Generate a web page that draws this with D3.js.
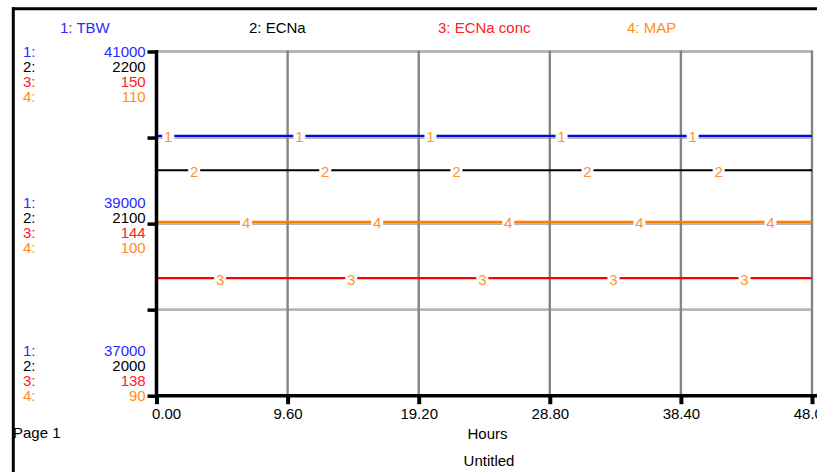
<!DOCTYPE html>
<html>
<head>
<meta charset="utf-8">
<script src="https://cdn.jsdelivr.net/npm/d3@7"></script>
<style>
  html, body { margin: 0; padding: 0; background: #fff; }
  svg { display: block; font-family: "Liberation Sans", Arial, sans-serif; }
</style>
</head>
<body>
<svg id="chart" width="817" height="472"></svg>
<script>
// ---- data ----
const seriesNames = ["1: TBW", "2: ECNa", "3: ECNa conc", "4: MAP"];
const hours = [0, 9.6, 19.2, 28.8, 38.4, 48];
const tbw = [40020, 40020, 40020, 40020, 40020, 40020];
const ecna = [2131, 2131, 2131, 2131, 2131, 2131];
const ecnaConc = [142.1, 142.1, 142.1, 142.1, 142.1, 142.1];
const map = [100.1, 100.1, 100.1, 100.1, 100.1, 100.1];
const xTicks = [0, 9.6, 19.2, 28.8, 38.4, 48];
const tbwTicks = [41000, 39000, 37000];
const ecnaTicks = [2200, 2100, 2000];
const concTicks = [150, 144, 138];
const mapTicks = [110, 100, 90];
const xTitle = "Hours";
const pageLabel = "Page 1";
const chartTitle = "Untitled";

// ---- layout ----
const svg = d3.select("#chart");
const L = 156.5, R = 812, T = 51.5, B = 395.7;
const textCol = ["#2a2aff", "#000000", "#ff2020", "#ff8c1a"];
const lineCol = ["#0a0ad8", "#000000", "#ff0000", "#ff8000"];
const lineW = [2.2, 1.8, 2.4, 2.4];
const labelCol = "#ff9333";

const x = d3.scaleLinear().domain([0, 48]).range([L, R]);
const yDomains = [
  [tbwTicks[2], tbwTicks[0]],
  [ecnaTicks[2], ecnaTicks[0]],
  [concTicks[2], concTicks[0]],
  [mapTicks[2], mapTicks[0]]
];
const ys = yDomains.map(d => d3.scaleLinear().domain(d).range([B, T]));
const seriesData = [tbw, ecna, ecnaConc, map];
const tickSets = [tbwTicks, ecnaTicks, concTicks, mapTicks];

svg.append("rect").attr("width", 817).attr("height", 472).attr("fill", "#fff");

// outer frame
svg.append("line").attr("x1", 12).attr("x2", 817).attr("y1", 8.7).attr("y2", 8.7)
  .attr("stroke", "#000").attr("stroke-width", 3);
svg.append("line").attr("x1", 13.3).attr("x2", 13.3).attr("y1", 7.2).attr("y2", 472)
  .attr("stroke", "#000").attr("stroke-width", 3);

// legend titles
const titleX = [60, 249, 438, 627];
svg.selectAll("text.title").data(seriesNames).join("text")
  .attr("class", "title")
  .attr("x", (d, i) => titleX[i]).attr("y", 33.3)
  .attr("font-size", 15).attr("fill", (d, i) => textCol[i])
  .text(d => d);

// horizontal grid lines (use the first series' scale ticks)
const yGridVals = d3.range(5).map(i => tbwTicks[2] + i * (tbwTicks[0] - tbwTicks[2]) / 4);
svg.append("g").selectAll("line").data(yGridVals.filter(v => v !== tbwTicks[2])).join("line")
  .attr("x1", L + 1.5).attr("x2", R)
  .attr("y1", d => ys[0](d)).attr("y2", d => ys[0](d))
  .attr("stroke", "#b6b6b6").attr("stroke-width", 2.8);

// vertical grid lines
svg.append("g").selectAll("line").data(xTicks.filter(t => t > 0)).join("line")
  .attr("x1", d => x(d)).attr("x2", d => x(d))
  .attr("y1", T - 1).attr("y2", B)
  .attr("stroke", "#858585").attr("stroke-width", 2.4);

// data lines
const line = (ys_) => d3.line().x((d, i) => x(hours[i])).y(d => ys_(d));
seriesData.forEach((vals, k) => {
  svg.append("path").datum(vals)
    .attr("d", line(ys[k]))
    .attr("fill", "none").attr("stroke", lineCol[k]).attr("stroke-width", lineW[k]);
});

// in-line series number labels
seriesData.forEach((vals, k) => {
  const first = 0.86 + k * 1.9;
  const pos = d3.range(first, 48, 9.6);
  const g = svg.append("g");
  pos.forEach(t => {
    const px = x(t), py = ys[k](vals[0]);
    g.append("rect").attr("x", px - 6).attr("y", py - 3).attr("width", 12).attr("height", 6)
      .attr("fill", "#fff");
    g.append("text").attr("x", px).attr("y", py + 6.5)
      .attr("text-anchor", "middle").attr("font-size", 15).attr("fill", labelCol)
      .text(String(k + 1));
  });
});

// left axis
const yAxis = d3.axisLeft(ys[0]).tickValues(yGridVals).tickFormat("").tickSize(9).tickSizeOuter(0);
const gy = svg.append("g").attr("transform", `translate(${L},0)`).call(yAxis);
gy.select(".domain").attr("stroke", "#000").attr("stroke-width", 3.5)
  .attr("d", `M0,${T - 1.5}V${B + 1.5}`);
gy.selectAll(".tick line").attr("stroke", "#000").attr("stroke-width", 3.5);

// bottom axis
const xAxis = d3.axisBottom(x).tickValues(xTicks).tickFormat(d3.format(".2f")).tickSize(8.5).tickSizeOuter(0);
const gx = svg.append("g").attr("transform", `translate(0,${B})`).call(xAxis);
gx.select(".domain").attr("stroke", "#000").attr("stroke-width", 3.5)
  .attr("d", `M${L - 1.5},0H817`);
gx.selectAll(".tick line").attr("stroke", "#000").attr("stroke-width", 4);
gx.selectAll(".tick text").attr("font-size", 15).attr("fill", "#000")
  .attr("font-family", "Liberation Sans, Arial, sans-serif")
  .attr("y", 23.5).attr("dy", 0);
gx.selectAll(".tick text").filter(d => d === 0).attr("text-anchor", "start").attr("x", -5);

// y tick label groups
const groupY = [T, (T + B) / 2, B];
const groupOffset = [5.8, -15.3, -39.7];
groupY.forEach((gyPos, gi) => {
  for (let k = 0; k < 4; k++) {
    const base = gyPos + groupOffset[gi] + k * 15;
    svg.append("text").attr("x", 23).attr("y", base)
      .attr("font-size", 15).attr("fill", textCol[k]).text((k + 1) + ":");
    svg.append("text").attr("x", 145.7).attr("y", base).attr("text-anchor", "end")
      .attr("font-size", 15).attr("fill", textCol[k]).text(tickSets[k][gi]);
  }
});

// bottom texts
svg.append("text").attr("x", 13).attr("y", 438.3).attr("font-size", 15).attr("fill", "#000").text(pageLabel);
svg.append("text").attr("x", 487.5).attr("y", 439.3).attr("text-anchor", "middle")
  .attr("font-size", 15).attr("fill", "#000").text(xTitle);
svg.append("text").attr("x", 489).attr("y", 466).attr("text-anchor", "middle")
  .attr("font-size", 15).attr("fill", "#000").text(chartTitle);
</script>
</body>
</html>
